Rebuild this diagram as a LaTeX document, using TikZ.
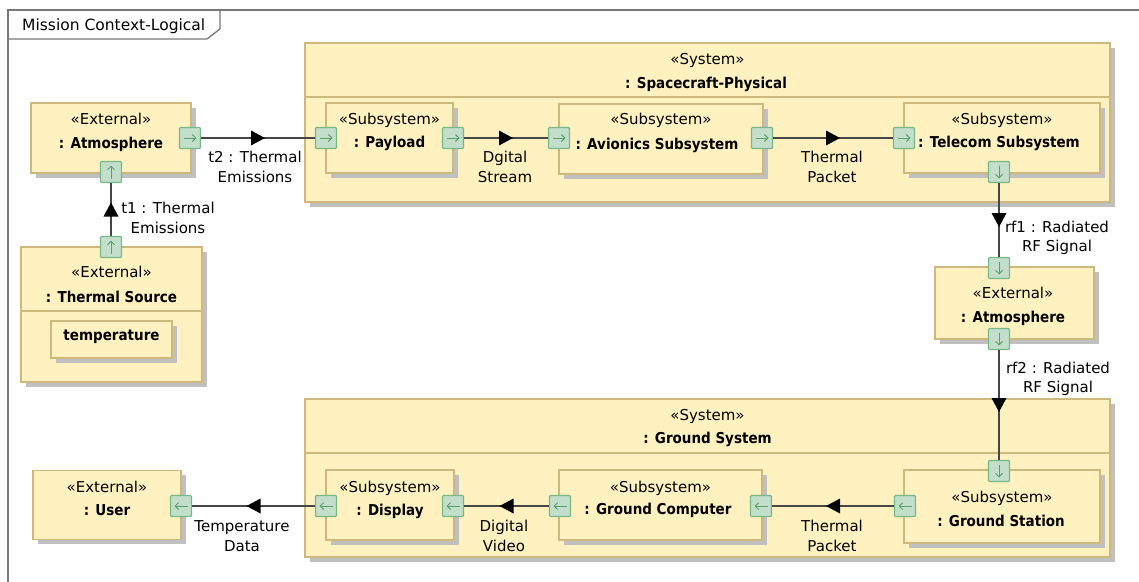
\documentclass[tikz,border=0pt]{standalone}
\usepackage{fontspec}
\setmainfont{DejaVu Sans}
\newfontfamily\namefont[FakeStretch=0.9]{DejaVu Sans}
\usetikzlibrary{shadows,decorations.markings,arrows.meta}
\definecolor{boxfill}{RGB}{255,242,192}
\definecolor{boxline}{RGB}{205,185,125}
\definecolor{shadowgray}{RGB}{192,192,192}
\definecolor{portfill}{RGB}{196,222,204}
\definecolor{portline}{RGB}{118,184,134}
\definecolor{portarrowc}{RGB}{88,162,104}
\definecolor{connline}{RGB}{70,70,70}
\definecolor{framecol}{RGB}{120,120,120}
\tikzset{
  box/.style={draw=boxline, fill=boxfill, line width=1.2pt, inner sep=0pt,
    drop shadow={shadow xshift=4.5pt, shadow yshift=-4.5pt, fill=shadowgray, opacity=1}},
  port/.style={draw=portline, fill=portfill, line width=1.1pt, minimum size=21pt, inner sep=0pt, rounded corners=1pt},
  parrow/.style={draw=portarrowc, line width=1pt, -{Straight Barb[length=3.5pt,width=7pt]}},
  pR/.style={port, path picture={\draw[parrow] ([xshift=4pt]path picture bounding box.west) -- ([xshift=-4pt]path picture bounding box.east);}},
  pL/.style={port, path picture={\draw[parrow] ([xshift=-4pt]path picture bounding box.east) -- ([xshift=4pt]path picture bounding box.west);}},
  pU/.style={port, path picture={\draw[parrow] ([yshift=4pt]path picture bounding box.south) -- ([yshift=-4pt]path picture bounding box.north);}},
  pD/.style={port, path picture={\draw[parrow] ([yshift=-4pt]path picture bounding box.north) -- ([yshift=4pt]path picture bounding box.south);}},
  conn/.style={draw=connline, line width=1.3pt, postaction={decorate},
    decoration={markings, mark=at position 0.5 with {\fill[black] (7pt,0pt) -- (-7pt,7.5pt) -- (-7pt,-7.5pt) -- cycle;}}},
  lab/.style={font=\fontsize{15}{19.5}\selectfont, align=center, inner sep=0pt},
  stereo/.style={font=\fontsize{15}{18}\selectfont, inner sep=0pt, anchor=base},
  nm/.style={font=\namefont\fontsize{15}{18}\selectfont\bfseries, inner sep=0pt, anchor=base},
}
\begin{document}
\begin{tikzpicture}[x=1pt,y=-1pt]
\useasboundingbox[fill=white] (0,0) rectangle (1139,581);
% frame
\draw[framecol, line width=1.5pt] (8,590) -- (8,10) -- (1145,10);
\draw[framecol, line width=1.3pt] (8,39) -- (207,39) -- (220,29) -- (220,10);
\node[stereo, anchor=base west] (title) at (22,30.5) {\fontsize{15.5}{18}\selectfont Mission Context-Logical};

% systems
\node[box, minimum width=805pt, minimum height=159pt] (sc) at (707.5,122.5) {};
\draw[boxline, line width=1.2pt] (305,97) -- (1110,97);
\node[stereo] (scst) at (707.5,64.5) {«System»};
\node[nm] (scnm) at (706,88.5) {: Spacecraft-Physical};

\node[box, minimum width=805pt, minimum height=158pt] (gs) at (707.5,478) {};
\draw[boxline, line width=1.2pt] (305,453) -- (1110,453);
\node[stereo] (gsst) at (707.5,420.5) {«System»};
\node[nm] (gsnm) at (707.5,443.5) {: Ground System};

% externals
\node[box, minimum width=160pt, minimum height=70pt] (atm1) at (111,138) {};
\node[stereo] (atm1st) at (111,124.5) {«External»};
\node[nm] (atm1nm) at (111,148.5) {: Atmosphere};

\node[box, minimum width=181pt, minimum height=135pt] (tsrc) at (111.5,314.5) {};
\draw[boxline, line width=1.2pt] (21,311) -- (202,311);
\node[stereo] (tsrcst) at (111.5,277.5) {«External»};
\node[nm] (tsrcnm) at (111.5,302.5) {: Thermal Source};
\node[box, minimum width=121pt, minimum height=37pt] (temp) at (111.5,339.5) {};
\node[nm] (tempnm) at (111.5,340.5) {temperature};

\node[box, minimum width=159pt, minimum height=72pt] (atm2) at (1014.5,303) {};
\node[stereo] (atm2st) at (1013,298.5) {«External»};
\node[nm] (atm2nm) at (1013,322.5) {: Atmosphere};

\node[box, minimum width=148pt, minimum height=69pt] (user) at (107,505) {};
\node[stereo] (userst) at (107,492.5) {«External»};
\node[nm] (usernm) at (107,515.5) {: User};

% subsystems top
\node[box, minimum width=127pt, minimum height=70pt] (pl) at (389.5,138) {};
\node[stereo] (plst) at (389.5,124.5) {«Subsystem»};
\node[nm] (plnm) at (389.5,147.5) {: Payload};

\node[box, minimum width=204pt, minimum height=70pt] (av) at (661,139) {};
\node[stereo] (avst) at (661,124.5) {«Subsystem»};
\node[nm] (avnm) at (657,149) {: Avionics Subsystem};

\node[box, minimum width=196pt, minimum height=70pt] (tc) at (1002,138) {};
\node[stereo] (tcst) at (1002,124.5) {«Subsystem»};
\node[nm] (tcnm) at (999,147.5) {: Telecom Subsystem};

% subsystems bottom
\node[box, minimum width=128pt, minimum height=70pt] (dp) at (390,505) {};
\node[stereo] (dpst) at (390,492.5) {«Subsystem»};
\node[nm] (dpnm) at (390,515.5) {: Display};

\node[box, minimum width=203pt, minimum height=70pt] (gc) at (660.5,505) {};
\node[stereo] (gcst) at (660.5,492.5) {«Subsystem»};
\node[nm] (gcnm) at (658,514.5) {: Ground Computer};

\node[box, minimum width=196pt, minimum height=73pt] (gst) at (1002,506.5) {};
\node[stereo] (gstst) at (1002,502.5) {«Subsystem»};
\node[nm] (gstnm) at (1001,526.5) {: Ground Station};

% ports
\node[pR] (a1R) at (190,138) {};
\node[pU] (a1B) at (111,172) {};
\node[pU] (tsT) at (111,247) {};
\node[pR] (plL) at (326,138) {};
\node[pR] (plR) at (453,138) {};
\node[pR] (avL) at (559,138) {};
\node[pR] (avR) at (762,138) {};
\node[pR] (tcL) at (904,138) {};
\node[pD] (tcB) at (999,172) {};
\node[pD] (a2T) at (999,268) {};
\node[pD] (a2B) at (999,339) {};
\node[pD] (gsT) at (999,471) {};
\node[pL] (gsL) at (905,506) {};
\node[pL] (gcR) at (761,506) {};
\node[pL] (gcL) at (560,506) {};
\node[pL] (dpR) at (453,506) {};
\node[pL] (dpL) at (326,506) {};
\node[pL] (usR) at (181,506) {};

% connectors
\draw[conn] (a1R) -- (plL);
\draw[conn] (tsT) -- (a1B);
\draw[conn] (plR) -- (avL);
\draw[conn] (avR) -- (tcL);
\draw[conn] (tcB) -- (a2T);
\draw[conn] (a2B) -- (gsT);
\draw[conn] (gsL) -- (gcR);
\draw[conn] (gcL) -- (dpR);
\draw[conn] (dpL) -- (usR);

% labels
\node[lab] (l1) at (255,167) {t2 : Thermal\\Emissions};
\node[lab] (l2) at (168,218) {t1 : Thermal\\Emissions};
\node[lab] (l3) at (505,167) {Dgital\\Stream};
\node[lab] (l4) at (832,167) {Thermal\\Packet};
\node[lab] (l5) at (1057,238) {rf1 : Radiated\\RF Signal};
\node[lab] (l6) at (1058,379) {rf2 : Radiated\\RF Signal};
\node[lab] (l7) at (242,536) {Temperature\\Data};
\node[lab] (l8) at (504,536) {Digital\\Video};
\node[lab] (l9) at (832,536) {Thermal\\Packet};
\end{tikzpicture}
\end{document}
